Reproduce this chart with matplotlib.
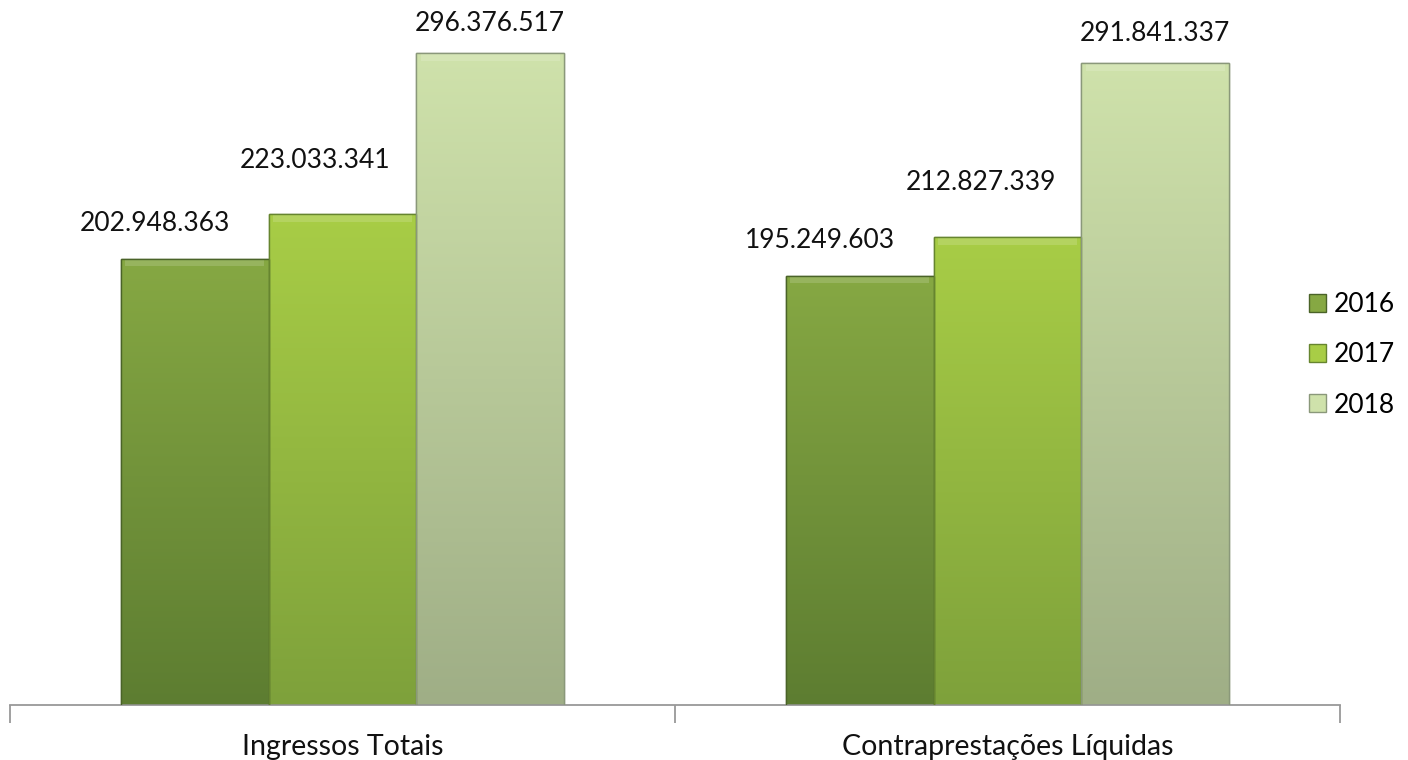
import numpy as np
import matplotlib.pyplot as plt
from matplotlib.colors import LinearSegmentedColormap
from matplotlib.patches import Rectangle

plt.rcParams['font.family'] = ['Lato', 'DejaVu Sans']

categories = ['Ingressos Totais', 'Contraprestações Líquidas']
years = ['2016', '2017', '2018']
values = {
    '2016': [202948363, 195249603],
    '2017': [223033341, 212827339],
    '2018': [296376517, 291841337],
}
labels = {
    '2016': ['202.948.363', '195.249.603'],
    '2017': ['223.033.341', '212.827.339'],
    '2018': ['296.376.517', '291.841.337'],
}

# top colour, bottom colour, edge colour per year
styles = {
    '2016': ('#86a843', '#5d7d31', '#4a6328'),
    '2017': ('#a8cd46', '#7ea13b', '#66852f'),
    '2018': ('#cfe2ab', '#9fae86', '#8a987a'),
}
label_off = {'2016': (-40, 35), '2017': (-27, 54), '2018': (0, 30)}

fig = plt.figure(figsize=(14.08, 7.6), dpi=100)
ax = fig.add_axes([10/1408, 55/760, 1330/1408, 705/760])

x = np.arange(len(categories))
width = 0.222
ax.set_xlim(-0.5, 1.5)
ax.set_ylim(0, 320.5e6)

grad = np.linspace(0, 1, 256).reshape(-1, 1)
for i, yr in enumerate(years):
    top, bottom, edge = styles[yr]
    cmap = LinearSegmentedColormap.from_list(yr, [bottom, top])
    xs = x + (i - 1) * width
    bars = ax.bar(xs, values[yr], width, color=top, edgecolor=edge,
                  linewidth=1.0, label=yr, zorder=2)
    for b in bars:
        bx, by = b.get_x(), b.get_height()
        im = ax.imshow(grad, extent=[bx, bx + width, 0, by], origin='lower',
                       aspect='auto', cmap=cmap, zorder=2.5)
        im.set_clip_path(b)
        # light bevel along the top
        ax.add_patch(Rectangle((bx + width*0.03, by - 3.5e6), width*0.94, 3e6,
                               color='white', alpha=0.15, lw=0, zorder=3))
        ax.add_patch(Rectangle((bx, 0), width, by, fill=False, edgecolor=edge,
                               lw=1.0, zorder=3.2))
    for j, b in enumerate(bars):
        dx, dy = label_off[yr]
        ax.annotate(labels[yr][j], (b.get_x() + width/2, b.get_height()),
                    xytext=(dx, dy), textcoords='offset pixels',
                    ha='center', va='center', fontsize=19, color='#111111')

for s in ['top', 'right', 'left']:
    ax.spines[s].set_visible(False)
ax.spines['bottom'].set_color('#999999')
ax.spines['bottom'].set_linewidth(1.3)
ax.set_yticks([])
ax.set_xticks([-0.5, 0.5, 1.5], minor=False)
ax.set_xticklabels(['', '', ''])
ax.tick_params(axis='x', length=13, color='#999999', width=1.3)
for i, c in enumerate(categories):
    ax.text(x[i], -0.06, c, transform=ax.get_xaxis_transform(),
            ha='center', va='center', fontsize=20.5, color='#111111')

handles = [Rectangle((0, 0), 1, 1, facecolor=styles[y][0], edgecolor=styles[y][2]) for y in years]
fig.legend(handles, years, loc='center left', bbox_to_anchor=(1285/1408, 1 - 355/760),
           frameon=False, fontsize=19, handlelength=0.65, handleheight=0.65,
           handletextpad=0.3, labelspacing=0.95)

fig.savefig('out.png', dpi=100)
